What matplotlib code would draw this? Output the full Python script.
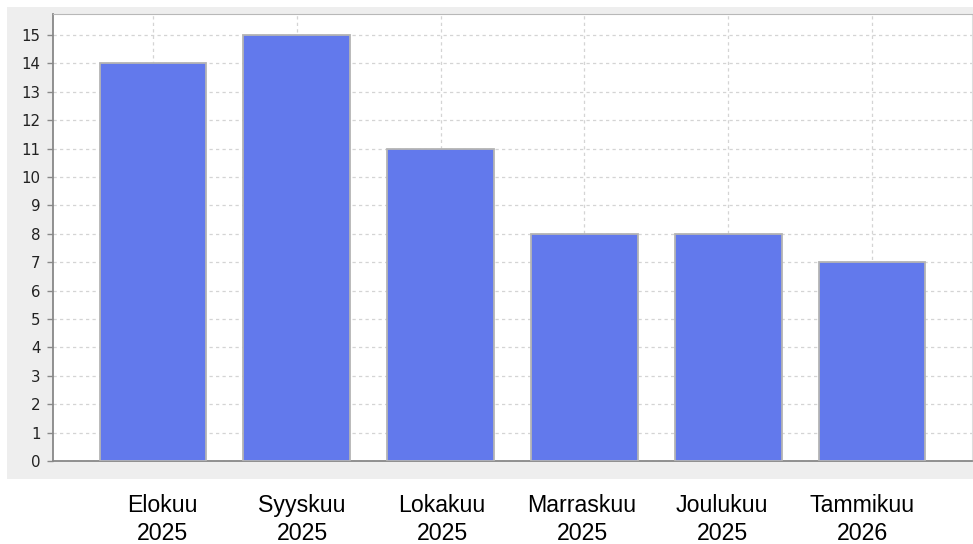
import numpy as np
import matplotlib.pyplot as plt
from matplotlib.patches import Rectangle

# data
months = ['Elokuu', 'Syyskuu', 'Lokakuu', 'Marraskuu', 'Joulukuu', 'Tammikuu']
years = ['2025', '2025', '2025', '2025', '2025', '2026']
counts = [14, 15, 11, 8, 8, 7]

W, H = 973, 544
fig = plt.figure(figsize=(W / 100, H / 100), dpi=100)
fig.patch.set_facecolor('white')

# gray chart panel behind the plot area
panel = Rectangle((7 / W, 1 - 479 / H), 1 - 7 / W, (479 - 7) / H,
                  transform=fig.transFigure, facecolor='#eeeeee',
                  edgecolor='none', zorder=-5)
fig.add_artist(panel)

ax = fig.add_axes([53 / W, 1 - 461 / H, (972 - 53) / W, (461 - 14) / H])
ax.set_zorder(2)
ax.set_facecolor('white')

x = np.arange(len(counts))
ax.bar(x, counts, width=0.74, color='#6279ec', edgecolor='#b4b4b4',
       linewidth=1.3, zorder=3)

ax.set_xlim(-0.694, len(counts) - 1 + 0.694)
ax.set_ylim(0, 15.74)
ax.set_yticks(range(0, 16))
ax.set_xticks(x)
ax.set_xticklabels([])
ax.tick_params(axis='x', length=0)
ax.tick_params(axis='y', length=4, width=1, color='#888888', pad=5,
               labelsize=10.8, labelcolor='#222222')

ax.grid(True, linestyle=(0, (2.6, 2.6)), color='#d4d4d4', linewidth=0.9, zorder=0)

ax.spines['left'].set_color('#888888')
ax.spines['bottom'].set_color('#888888')
ax.spines['left'].set_linewidth(1.3)
ax.spines['bottom'].set_linewidth(1.3)
ax.spines['top'].set_color('#b8b8b8')
ax.spines['right'].set_color('#dddddd')

# month labels below the chart
for i in range(len(months)):
    fig.text((162 + 140 * i) / W, 1 - 519.5 / H, months[i] + '\n' + years[i],
             ha='center', va='center', fontsize=16.7,
             family='Liberation Sans', linespacing=1.28, color='black')

fig.savefig('out.png', dpi=100)
